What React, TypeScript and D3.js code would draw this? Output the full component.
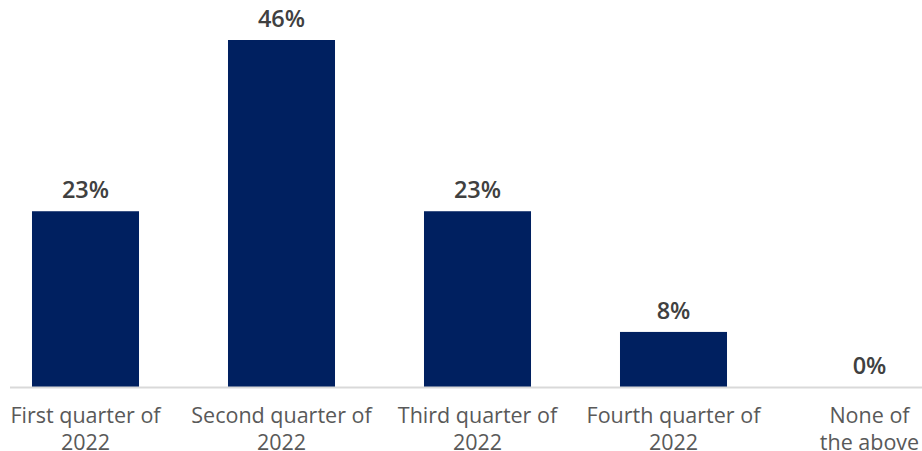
import React from "react";
import * as d3 from "d3";

const categories: string[][] = [
  ["First quarter of", "2022"],
  ["Second quarter of", "2022"],
  ["Third quarter of", "2022"],
  ["Fourth quarter of", "2022"],
  ["None of", "the above"],
];
const values: number[] = [23.3, 46, 23.3, 7.3, 0];
const valueLabels: string[] = ["23%", "46%", "23%", "8%", "0%"];

const W = 922;
const H = 451;
const baseline = 387;
const top = 40;

export default function App() {
  const keys = categories.map((_, i) => String(i));
  const x = d3.scaleBand<string>().domain(keys).range([-12.5, 967.5]).paddingInner(0.454).paddingOuter(0.227);
  const y = d3.scaleLinear().domain([0, 46]).range([baseline, top]);
  const font = "'Open Sans', 'Noto Sans', sans-serif";
  return (
    <svg width={W} height={H} style={{ position: "fixed", left: 0, top: 0, background: "#fff" }}>
      {values.map((v, i) => {
        const bx = x(String(i))!;
        return (
          <rect key={i} x={bx} y={y(v)} width={x.bandwidth()} height={baseline - y(v)} fill="#002060" />
        );
      })}
      <line x1={10} x2={W} y1={baseline + 0.5} y2={baseline + 0.5} stroke="#d9d9d9" strokeWidth={2} />
      {values.map((v, i) => {
        const cx = x(String(i))! + x.bandwidth() / 2;
        return (
          <text key={i} x={cx} y={y(v) - 13} textAnchor="middle" fontFamily={font} fontSize={23.5} fontWeight={600} fill="#404040">
            {valueLabels[i]}
          </text>
        );
      })}
      {categories.map((lines, i) => {
        const cx = x(String(i))! + x.bandwidth() / 2;
        return (
          <text key={i} textAnchor="middle" fontFamily={font} fontSize={21.5} fill="#595959">
            {lines.map((l, j) => (
              <tspan key={j} x={cx} y={423 + j * 26.5}>{l}</tspan>
            ))}
          </text>
        );
      })}
    </svg>
  );
}
